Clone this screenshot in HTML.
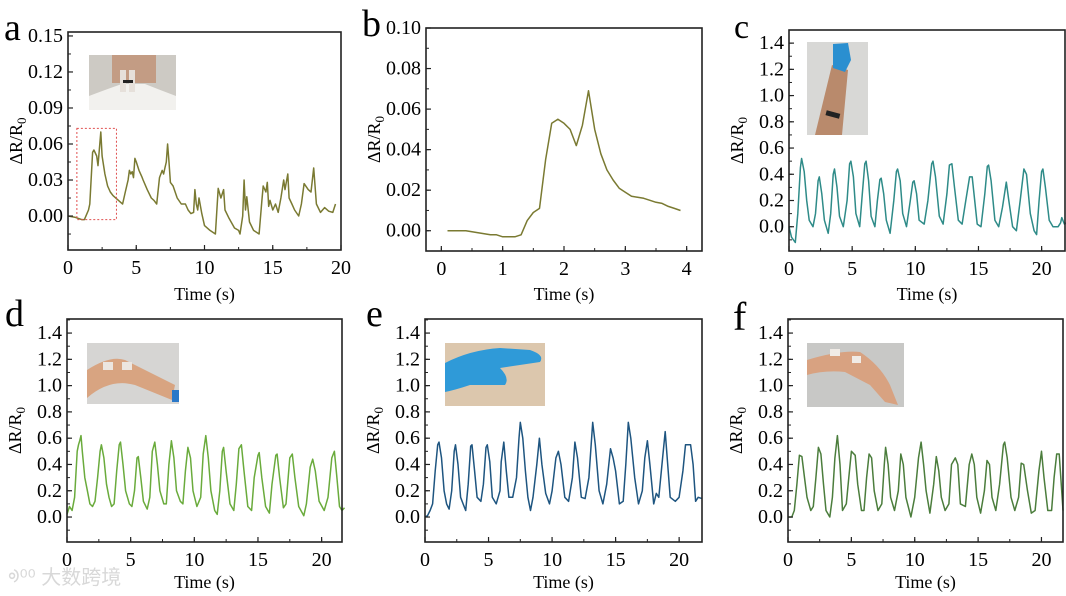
<!DOCTYPE html>
<html><head><meta charset="utf-8"><style>
body{margin:0;background:#fff;}
svg{display:block;font-family:"Liberation Serif",serif;}
</style></head><body>
<svg id="fig" width="1066" height="596" viewBox="0 0 1066 596" xmlns="http://www.w3.org/2000/svg">
<text x="4" y="40" font-size="38">a</text>
<text x="362" y="36" font-size="38">b</text>
<text x="734" y="38" font-size="34">c</text>
<text x="5" y="326" font-size="38">d</text>
<text x="366" y="326" font-size="38">e</text>
<text x="733" y="330" font-size="40">f</text>

<g>
<rect x="89" y="55" width="87" height="55" fill="#cdcac4"/>
<rect x="112" y="55" width="44" height="28" fill="#c39c84"/>
<path d="M89 110 L89 96 Q110 88 122 84 L145 84 Q160 90 176 96 L176 110Z" fill="#f2f1ee"/>
<rect x="120" y="70" width="6" height="22" fill="#e6e0da"/>
<rect x="129" y="70" width="6" height="22" fill="#e6e0da"/>
<rect x="123" y="80" width="10" height="3" fill="#222"/>
</g>
<g>
<rect x="807" y="42" width="61" height="93" fill="#d8d8d6"/>
<path d="M832 65 L848 70 L842 135 L815 135Z" fill="#b98a6c"/>
<path d="M833 44 L848 43 L851 60 L845 72 L833 68Z" fill="#2a8fd0"/>
<rect x="826" y="112" width="14" height="5" fill="#222" transform="rotate(15 833 114)"/>
</g>
<g>
<rect x="87" y="343" width="92" height="61" fill="#d6d5d3"/>
<path d="M87 370 Q110 355 125 360 L175 385 L172 400 L135 385 Q110 378 87 398Z" fill="#d8a481"/>
<rect x="103" y="362" width="10" height="8" fill="#ece6e0"/>
<rect x="122" y="362" width="10" height="8" fill="#ece6e0"/>
<rect x="172" y="390" width="7" height="12" fill="#2a78c8"/>
</g>
<g>
<rect x="445" y="343" width="100" height="63" fill="#dcc7ad"/>
<path d="M445 363 Q470 350 500 348 L530 350 Q545 355 540 362 L500 368 Q510 378 505 385 L470 385 Q455 390 445 392Z" fill="#2f9ad8"/>
</g>
<g>
<rect x="807" y="343" width="97" height="64" fill="#c8c8c6"/>
<path d="M807 360 Q840 350 860 352 Q880 365 890 385 L898 405 L885 402 L870 385 L845 372 Q825 370 807 375Z" fill="#d8a281"/>
<rect x="830" y="349" width="10" height="7" fill="#f0ebe6"/>
<rect x="852" y="356" width="9" height="7" fill="#f0ebe6"/>
</g>

<text x="8" y="584" font-size="20" fill="#d8d8d8" font-family="'Liberation Sans','Noto Sans CJK SC',sans-serif">ᢀ⁰⁰ 大数跨境</text>
</svg>
<script>
const aData=[[0,0],[0.5,-0.001],[1.0,-0.003],[1.2,-0.003],[1.5,0.005],[1.6,0.01],[1.8,0.053],[1.9,0.055],[2.1,0.05],[2.2,0.042],[2.4,0.07],[2.5,0.05],[2.7,0.035],[2.9,0.025],[3.1,0.02],[3.3,0.017],[3.6,0.014],[3.9,0.011],[4.0,0.01],[4.2,0.02],[4.4,0.03],[4.5,0.038],[4.6,0.035],[4.7,0.037],[4.8,0.032],[4.9,0.048],[5.0,0.045],[5.2,0.038],[5.4,0.033],[5.5,0.03],[5.8,0.022],[6.1,0.015],[6.3,0.013],[6.5,0.01],[6.7,0.032],[6.9,0.038],[7.0,0.035],[7.1,0.04],[7.2,0.045],[7.3,0.06],[7.4,0.045],[7.5,0.028],[7.7,0.025],[8.0,0.015],[8.3,0.01],[8.6,0.01],[8.8,0.005],[9.0,0.002],[9.2,0.003],[9.3,0.022],[9.4,0.01],[9.5,0.005],[9.6,0.015],[9.8,0.002],[10.0,-0.008],[10.4,-0.012],[10.8,-0.015],[11.0,0.023],[11.2,0.015],[11.4,0.022],[11.5,0.005],[11.8,-0.002],[12.2,-0.01],[12.5,-0.012],[12.6,-0.015],[12.8,0.0],[12.9,0.03],[13.0,0.005],[13.1,0.016],[13.3,-0.005],[13.6,-0.012],[14.0,-0.015],[14.2,0.012],[14.3,0.025],[14.5,0.02],[14.6,0.028],[14.7,0.008],[14.8,0.013],[15.0,0.005],[15.2,0.01],[15.4,0.003],[15.6,0.015],[15.8,0.03],[15.9,0.022],[16.1,0.035],[16.2,0.015],[16.4,0.01],[16.6,0.005],[16.9,0.0],[17.1,0.01],[17.3,0.027],[17.6,0.022],[17.8,0.02],[18.0,0.04],[18.2,0.01],[18.5,0.003],[18.8,0.007],[19.1,0.004],[19.4,0.003],[19.6,0.01]];
const bData=[[0.1,0],[0.4,0],[0.6,-0.001],[0.8,-0.002],[0.9,-0.002],[1.0,-0.003],[1.2,-0.003],[1.3,-0.002],[1.4,0.005],[1.5,0.009],[1.6,0.011],[1.7,0.035],[1.8,0.053],[1.9,0.055],[2.0,0.053],[2.1,0.05],[2.2,0.042],[2.3,0.052],[2.4,0.069],[2.5,0.05],[2.6,0.038],[2.7,0.03],[2.8,0.025],[2.9,0.021],[3.0,0.019],[3.1,0.017],[3.2,0.0165],[3.3,0.016],[3.4,0.015],[3.5,0.014],[3.6,0.0135],[3.7,0.012],[3.8,0.011],[3.9,0.010]];
const cData=[[0,0.0],[0.2,-0.08],[0.5,-0.12],[0.7,0.1],[0.9,0.45],[1.0,0.52],[1.2,0.42],[1.4,0.2],[1.6,0.05],[1.9,0.0],[2.1,0.1],[2.3,0.35],[2.4,0.38],[2.6,0.25],[2.8,0.05],[3.1,-0.05],[3.3,0.1],[3.5,0.4],[3.6,0.44],[3.8,0.3],[4.0,0.08],[4.3,0.0],[4.6,0.2],[4.8,0.48],[4.9,0.50],[5.1,0.38],[5.3,0.1],[5.6,0.0],[5.8,0.25],[6.0,0.48],[6.1,0.50],[6.3,0.35],[6.5,0.08],[6.8,0.0],[7.0,0.2],[7.2,0.36],[7.3,0.37],[7.5,0.25],[7.7,0.05],[8.0,-0.05],[8.3,0.2],[8.5,0.42],[8.6,0.44],[8.8,0.35],[9.0,0.1],[9.3,0.0],[9.6,0.2],[9.8,0.34],[9.9,0.35],[10.1,0.25],[10.3,0.05],[10.7,0.02],[11.0,0.2],[11.3,0.48],[11.4,0.50],[11.6,0.38],[11.9,0.08],[12.2,0.02],[12.5,0.25],[12.7,0.47],[12.9,0.48],[13.1,0.3],[13.4,0.05],[13.7,0.02],[14.0,0.2],[14.3,0.38],[14.5,0.38],[14.7,0.2],[14.9,0.02],[15.2,0.0],[15.5,0.25],[15.7,0.46],[15.8,0.47],[16.0,0.35],[16.3,0.05],[16.6,0.0],[16.9,0.15],[17.2,0.34],[17.4,0.2],[17.7,0.0],[18.0,-0.03],[18.3,0.2],[18.6,0.44],[18.8,0.4],[19.1,0.1],[19.4,-0.03],[19.6,-0.06],[19.8,0.2],[20.0,0.42],[20.1,0.44],[20.3,0.3],[20.6,0.05],[20.9,0.0],[21.3,0.0],[21.5,0.03],[21.6,0.07],[21.8,0.02],[22,0.03]];
const dData=[[0,0.02],[0.2,0.08],[0.4,0.05],[0.6,0.15],[0.8,0.5],[0.9,0.55],[1.0,0.58],[1.1,0.62],[1.2,0.5],[1.4,0.3],[1.6,0.2],[1.8,0.1],[2.0,0.08],[2.2,0.12],[2.4,0.3],[2.6,0.5],[2.7,0.55],[2.9,0.45],[3.1,0.25],[3.3,0.15],[3.5,0.08],[3.7,0.1],[3.9,0.35],[4.1,0.55],[4.2,0.57],[4.4,0.4],[4.6,0.2],[4.9,0.1],[5.1,0.08],[5.3,0.2],[5.5,0.45],[5.6,0.46],[5.8,0.3],[6.0,0.12],[6.3,0.06],[6.5,0.15],[6.7,0.5],[6.9,0.57],[7.1,0.4],[7.3,0.2],[7.6,0.1],[7.8,0.1],[8.0,0.4],[8.2,0.58],[8.4,0.45],[8.6,0.2],[8.9,0.12],[9.1,0.1],[9.3,0.35],[9.5,0.53],[9.7,0.45],[9.9,0.2],[10.2,0.08],[10.5,0.15],[10.7,0.48],[10.9,0.62],[11.1,0.45],[11.3,0.2],[11.6,0.05],[11.8,0.02],[12.0,0.2],[12.2,0.5],[12.3,0.53],[12.5,0.35],[12.8,0.1],[13.1,0.05],[13.3,0.25],[13.5,0.52],[13.7,0.55],[13.9,0.35],[14.2,0.08],[14.5,0.05],[14.7,0.3],[15.0,0.47],[15.1,0.49],[15.3,0.3],[15.6,0.08],[15.9,0.03],[16.1,0.25],[16.4,0.47],[16.5,0.48],[16.7,0.3],[17.0,0.07],[17.2,0.1],[17.5,0.45],[17.7,0.48],[17.9,0.3],[18.2,0.08],[18.6,0.01],[18.8,0.1],[19.1,0.38],[19.3,0.44],[19.5,0.35],[19.8,0.12],[20.2,0.05],[20.5,0.15],[20.8,0.45],[21.0,0.50],[21.2,0.3],[21.4,0.08],[21.6,0.05],[21.8,0.07]];
const eData=[[0,0.0],[0.2,0.01],[0.4,0.05],[0.6,0.1],[0.8,0.35],[1.0,0.55],[1.1,0.57],[1.3,0.45],[1.5,0.2],[1.7,0.1],[1.9,0.06],[2.1,0.2],[2.3,0.5],[2.4,0.55],[2.6,0.4],[2.8,0.15],[3.0,0.1],[3.2,0.05],[3.4,0.25],[3.6,0.54],[3.7,0.55],[3.9,0.35],[4.1,0.15],[4.4,0.12],[4.6,0.25],[4.8,0.53],[4.9,0.55],[5.1,0.42],[5.3,0.15],[5.6,0.1],[5.9,0.2],[6.0,0.42],[6.2,0.57],[6.4,0.35],[6.6,0.15],[6.9,0.15],[7.2,0.3],[7.4,0.6],[7.5,0.72],[7.7,0.6],[7.9,0.35],[8.1,0.15],[8.3,0.05],[8.5,0.15],[8.8,0.4],[9.0,0.60],[9.2,0.4],[9.5,0.18],[9.8,0.1],[10.0,0.2],[10.3,0.45],[10.5,0.50],[10.7,0.4],[11.0,0.15],[11.3,0.12],[11.6,0.3],[11.8,0.57],[12.0,0.45],[12.3,0.15],[12.6,0.14],[12.9,0.3],[13.2,0.72],[13.4,0.55],[13.7,0.2],[14.0,0.1],[14.3,0.25],[14.6,0.52],[14.8,0.45],[15.0,0.35],[15.3,0.1],[15.6,0.12],[15.8,0.4],[16.0,0.72],[16.2,0.6],[16.5,0.3],[16.8,0.1],[17.1,0.2],[17.3,0.45],[17.5,0.58],[17.7,0.4],[18.0,0.1],[18.2,0.18],[18.4,0.15],[18.7,0.45],[18.9,0.65],[19.1,0.4],[19.3,0.15],[19.7,0.12],[20.0,0.15],[20.3,0.35],[20.5,0.55],[20.9,0.55],[21.1,0.4],[21.3,0.12],[21.5,0.15],[21.8,0.14]];
const fData=[[0,0.0],[0.3,0.0],[0.5,0.05],[0.7,0.25],[0.9,0.47],[1.1,0.46],[1.3,0.3],[1.5,0.15],[1.8,0.05],[2.0,0.08],[2.2,0.3],[2.4,0.53],[2.6,0.48],[2.8,0.25],[3.0,0.05],[3.3,0.0],[3.5,0.15],[3.7,0.45],[3.9,0.62],[4.1,0.4],[4.3,0.05],[4.6,0.1],[4.8,0.3],[5.0,0.5],[5.3,0.47],[5.5,0.25],[5.8,0.05],[6.0,0.05],[6.2,0.3],[6.4,0.48],[6.6,0.45],[6.8,0.2],[7.1,0.05],[7.4,0.1],[7.6,0.4],[7.7,0.53],[7.9,0.4],[8.1,0.15],[8.4,0.05],[8.7,0.2],[8.9,0.48],[9.1,0.4],[9.3,0.15],[9.7,0.0],[10.0,0.15],[10.3,0.45],[10.5,0.57],[10.7,0.4],[10.9,0.2],[11.2,0.03],[11.5,0.25],[11.7,0.46],[11.9,0.35],[12.1,0.15],[12.4,0.05],[12.7,0.1],[12.9,0.4],[13.2,0.45],[13.4,0.4],[13.6,0.1],[14.0,0.08],[14.3,0.4],[14.5,0.48],[14.7,0.4],[14.9,0.15],[15.2,0.03],[15.5,0.2],[15.7,0.43],[15.9,0.4],[16.1,0.15],[16.4,0.05],[16.7,0.25],[17.0,0.55],[17.1,0.57],[17.3,0.45],[17.6,0.15],[17.9,0.05],[18.2,0.15],[18.4,0.41],[18.6,0.4],[18.9,0.2],[19.2,0.03],[19.5,0.05],[19.8,0.35],[20.0,0.50],[20.2,0.3],[20.5,0.05],[20.8,0.05],[21.0,0.3],[21.2,0.48],[21.4,0.48],[21.6,0.2],[21.7,0.05]];
const xTicks20=[0,5,10,15,20];
const xTicks4=[0,1,2,3,4];
const yTicksA=[0,0.03,0.06,0.09,0.12,0.15];
const yTicksB=[0,0.02,0.04,0.06,0.08,0.10];
const yTicksR=[0,0.2,0.4,0.6,0.8,1.0,1.2,1.4];

const NS="http://www.w3.org/2000/svg";
const svg=document.getElementById('fig');
function mk(tag,attrs,parent){const e=document.createElementNS(NS,tag);for(const k in attrs)e.setAttribute(k,attrs[k]);(parent||svg).appendChild(e);return e;}

function panel(id,box,xr,yr,xt,xminor,yt,yminor,dec,data,color,titleY){
  const [L,T,R,B]=box;
  const X=v=>L+(v-xr[0])/(xr[1]-xr[0])*(R-L);
  const Y=v=>B-(v-yr[0])/(yr[1]-yr[0])*(B-T);
  const g=mk('g',{});
  
  
  const d=data.map((p,i)=>(i?'L':'M')+X(p[0]).toFixed(1)+' '+Y(p[1]).toFixed(1)).join(' ');
  const line=mk('path',{d:d,fill:'none',stroke:color,'stroke-width':1.5,'stroke-linejoin':'round'},g);
  
  
  const frame=mk('rect',{x:L,y:T,width:R-L,height:B-T,fill:'none',stroke:'#222','stroke-width':1.6},g);
  
  
  xt.forEach(v=>{
    mk('line',{x1:X(v),x2:X(v),y1:B,y2:B-5,stroke:'#222','stroke-width':1.2},g);
    const t=mk('text',{x:X(v),y:B+24,'font-size':20,'text-anchor':'middle'},g);
    t.textContent=String(v);
    
    
  });
  for(let v=xr[0]-xr[0]%xminor;v<=xr[1];v+=xminor){if(v>xr[0]&&v<xr[1])mk('line',{x1:X(v),x2:X(v),y1:B,y2:B-3,stroke:'#222','stroke-width':1},g);}
  yt.forEach(v=>{
    mk('line',{x1:L,x2:L+5,y1:Y(v),y2:Y(v),stroke:'#222','stroke-width':1.2},g);
    const t=mk('text',{x:L-5,y:Y(v)+6,'font-size':20,'text-anchor':'end'},g);
    t.textContent=v.toFixed(dec);
    
    
  });
  for(let v=Math.ceil(yr[0]/yminor)*yminor;v<=yr[1];v+=yminor){mk('line',{x1:L,x2:L+3,y1:Y(v),y2:Y(v),stroke:'#222','stroke-width':1},g);}
  const xl=mk('text',{x:(L+R)/2,y:titleY,'font-size':18,'text-anchor':'middle'},g);
  xl.textContent='Time (s)';
  
  
  const yl=mk('text',{x:0,y:0,'font-size':18,'text-anchor':'middle',transform:`translate(${L-46},${(T+B)/2}) rotate(-90)`},g);
  yl.innerHTML='ΔR/R<tspan font-size="13" dy="4">0</tspan>';
  
  
  return {X,Y};
}
const pa=panel('a',[68,32,341,250],[0,20],[-0.0283,0.1533],xTicks20,2.5,yTicksA,0.015,2,aData,'#7a7a32',300);
const r=mk('rect',{x:pa.X(0.65),y:pa.Y(0.073),width:pa.X(3.55)-pa.X(0.65),height:pa.Y(-0.003)-pa.Y(0.073),fill:'none',stroke:'#e05050','stroke-width':1,'stroke-dasharray':'2 2'});


panel('b',[426,28,702,251],[-0.25,4.25],[-0.01,0.10],xTicks4,0.5,yTicksB,0.01,2,bData,'#7a7a32',300);
panel('c',[789,30,1065,251],[0,21.85],[-0.185,1.5],xTicks20,2.5,yTicksR,0.1,1,cData,'#2e8b88',300);
panel('d',[67,319,342,542],[0,21.6],[-0.19,1.507],xTicks20,2.5,yTicksR,0.1,1,dData,'#6aab3c',588);
panel('e',[425,319,702,542],[0,21.8],[-0.19,1.507],xTicks20,2.5,yTicksR,0.1,1,eData,'#1e5580',588);
panel('f',[788,319,1063,542],[0,21.7],[-0.19,1.507],xTicks20,2.5,yTicksR,0.1,1,fData,'#4b7d3c',588);
</script>
</body></html>
